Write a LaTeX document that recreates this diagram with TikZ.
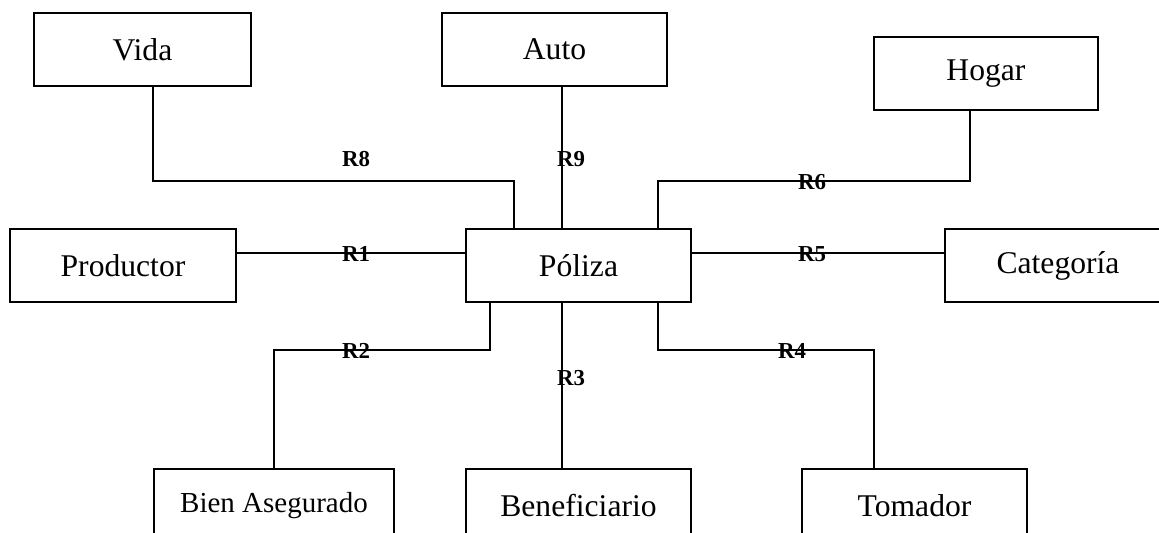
\documentclass[tikz,border=0pt]{standalone}
\usepackage{fontspec}
\setmainfont{Liberation Serif}
\usetikzlibrary{calc}
\tikzset{
  ent/.style={draw,line width=0.9pt,minimum height=1.46cm,minimum width=#1,inner sep=0pt,
    font=\fontsize{18}{21}\selectfont},
  ent/.default=4.5cm,
  rel/.style={line width=1.1pt},
  rlab/.style={font=\fontsize{13}{15}\selectfont\bfseries,inner sep=1pt},
}

\begin{document}
\begin{tikzpicture}[x=0.02cm,y=-0.02cm]
  \useasboundingbox (0,0) rectangle (1159,533);
  \clip (0,0) rectangle (1159,533);
  % entidades
  \node[ent=4.34cm] (vida) at (142.5,49.5) {Vida};
  \node[ent] (auto) at (554.5,49.5) {Auto};
  \node[ent=4.48cm] (hogar) at (986,73.5) {Hogar};
  \node[ent=4.52cm] (productor) at (123,265.5) {Productor};
  \node[ent] (poliza) at (578.5,265.5) {Póliza};
  \node[ent=4.52cm] (categoria) at (1058,265.5) {Categoría};
  \node[ent=4.8cm,font=\fontsize{16.5}{19}\selectfont] (bien) at (274,505.5) {Bien Asegurado};
  \node[ent] (benef) at (578.5,505.5) {Beneficiario};
  \node[ent] (tomador) at (914.5,505.5) {Tomador};
  % relaciones
  \coordinate (top) at (0,181);
  \coordinate (bot) at (0,350);
  \coordinate (v8) at ($(vida.south)+(10.5,0)$);
  \coordinate (p8) at ($(poliza.north)+(-64.5,0)$);
  \coordinate (p9) at ($(poliza.north)+(-16.5,0)$);
  \coordinate (h6) at ($(hogar.south)+(-16,0)$);
  \coordinate (p6) at ($(poliza.north)+(79.5,0)$);
  \coordinate (m1) at ($(poliza.west)+(0,-12.5)$);
  \coordinate (m5) at ($(poliza.east)+(0,-12.5)$);
  \coordinate (p2) at ($(poliza.south)+(-88.5,0)$);
  \coordinate (p3) at ($(poliza.south)+(-16.5,0)$);
  \coordinate (p4) at ($(poliza.south)+(79.5,0)$);
  \coordinate (t4) at ($(tomador.north)+(-40.5,0)$);
  \draw[rel] (v8) -- (v8 |- top) -- (p8 |- top) -- (p8);
  \draw[rel] (p9 |- auto.south) -- (p9);
  \draw[rel] (h6) -- (h6 |- top) -- (p6 |- top) -- (p6);
  \draw[rel] (m1 -| productor.east) -- (m1);
  \draw[rel] (m5) -- (m5 -| categoria.west);
  \draw[rel] (p2) -- (p2 |- bot) -- (bien.north |- bot) -- (bien.north);
  \draw[rel] (p3) -- (p3 |- benef.north);
  \draw[rel] (p4) -- (p4 |- bot) -- (t4 |- bot) -- (t4);
  % etiquetas
  \node[rlab] (r8) at (356,159) {R8};
  \node[rlab] (r9) at (571,159) {R9};
  \node[rlab] (r6) at (812,182) {R6};
  \node[rlab] (r1) at (356,254) {R1};
  \node[rlab] (r5) at (812,254) {R5};
  \node[rlab] (r2) at (356,351) {R2};
  \node[rlab] (r3) at (571,378) {R3};
  \node[rlab] (r4) at (792,351) {R4};
\end{tikzpicture}
\end{document}
